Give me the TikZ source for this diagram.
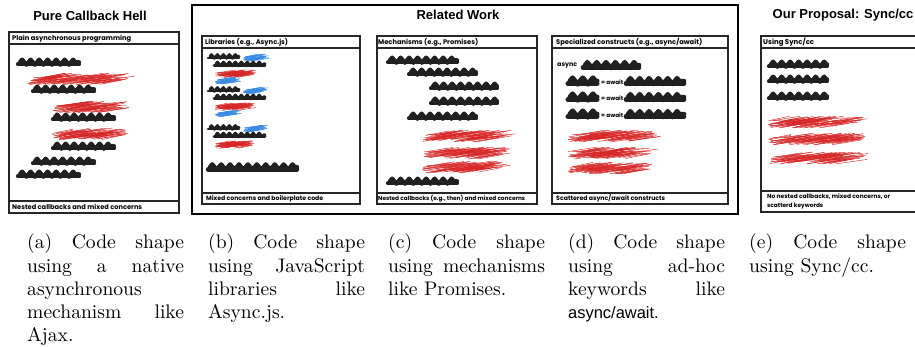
\documentclass[tikz,border=0pt]{standalone}
\usepackage{fontspec}
\usepackage{graphicx}
\usetikzlibrary{decorations.pathmorphing}
\newfontfamily\titlefont{Liberation Sans}
\newfontfamily\helv{Liberation Sans}
\newfontfamily\sketchfont{Poppins}
\definecolor{scribred}{RGB}{214,38,38}
\definecolor{scribblue}{RGB}{58,138,228}
\definecolor{scribblack}{RGB}{32,32,32}

\tikzset{
  panel/.style={draw=black!85, line width=1.2pt},
  frame/.style={draw=black, line width=2pt},
  title/.style={font=\titlefont\bfseries\fontsize{13}{15}\selectfont, inner sep=0},
  label/.style={font=\sketchfont\bfseries\fontsize{7}{8}\selectfont, anchor=west, inner sep=0},
  capt/.style={anchor=base west, inner sep=0},
  redline/.style={scribred, line width=0.45pt},
  blueline/.style={scribblue, line width=0.45pt},
}

% thick black scribble: flat lower stroke plus a zigzag upper stroke
\newcommand{\blk}[4]{%
  \pgfmathsetmacro\bw{4.2*#4}%
  \pgfmathsetmacro\zw{4.2*#4}%
  \pgfmathsetmacro\zs{8.5*#4}%
  \pgfmathsetmacro\za{2.6*#4}%
  \draw[scribblack, line width=\bw pt, line cap=round] (#1+1, #3+1.4*#4) -- (#2-1, #3+1.4*#4);
  \draw[scribblack, line width=\zw pt, line cap=round, line join=round, decorate,
        decoration={zigzag, segment length=\zs pt, amplitude=\za pt}]
        (#1+3, #3-0.8*#4) -- (#2-1, #3-0.8*#4);
}

% hatched band of long, shallow strokes: style, x1, x2, y, half height
\newcommand{\hatch}[5]{%
  \pgfmathsetmacro\hl{5*#5}%
  \pgfmathsetmacro\hw{#3-#2-\hl}%
  \pgfmathtruncatemacro\hn{(#3-#2)/(0.24*#5)}%
  \foreach \k in {0,...,\hn}{%
    \pgfmathsetmacro\xa{#2+rnd*\hw}%
    \pgfmathsetmacro\ya{#4+#5*(0.95-1.5*rnd)}%
    \pgfmathsetmacro\lx{\hl*(0.8+0.5*rnd)}%
    \draw[#1] (\xa, \ya+0.45*#5) -- (\xa+\lx, \ya-0.45*#5);
  }
  \draw[#1] (#2+0.5*#5, #4+0.5*#5) -- (#3-1, #4-0.2*#5);
  \draw[#1] (#2+#5, #4-0.1*#5) -- (#3-0.5*#5, #4-0.7*#5);
  \draw[#1] (#2+0.2*#5, #4+0.9*#5) -- (#3-#5, #4+0.3*#5);
}

% label of fixed printed width
\newcommand{\lab}[2]{\resizebox{#1pt}{!}{#2}}

\newcommand{\capbox}[1]{\scalebox{1.96}{\parbox[t]{80pt}{\fontsize{10}{11.85}\selectfont #1}}}

\begin{document}
\begin{tikzpicture}[x=1pt, y=-1pt]
\pgfmathsetseed{7}
\useasboundingbox (0,0) rectangle (915,347);
\begin{scope}
\clip (0,0) rectangle (915,347);

% titles
\node[title] (ta) at (90,16) {Pure Callback Hell};
\node[title] (tb) at (458,15) {Related Work};
\node[title] (te) at (843,15) {Our Proposal: Sync/cc};

% related work frame
\draw[frame] (192,5) rectangle (738,214);

% panel (a)
\draw[panel] (9,32) rectangle (179,213);
\draw[panel] (9,44) -- (179,44) (9,201) -- (179,201);
\node[label] (ha) at (12,38.5) {\lab{119}{Plain asynchronous programming}};
\node[label] (fa) at (12,207) {\lab{130}{Nested callbacks and mixed concerns}};
\blk{17}{80}{63}{1}
\hatch{redline}{28}{128}{78}{5}
\blk{32}{95}{90}{1}
\hatch{redline}{52}{128}{106}{5}
\blk{52}{115}{118}{1}
\hatch{redline}{52}{127}{133}{5}
\blk{52}{115}{147}{1}
\blk{32}{95}{162}{1}
\blk{17}{80}{175}{1}

% panel (b)
\draw[panel] (202,36) rectangle (360,204);
\draw[panel] (202,48) -- (360,48) (202,193) -- (360,193);
\node[label] (hb) at (205,42) {\lab{83}{Libraries (e.g., Async.js)}};
\node[label] (fb) at (206,198.5) {\lab{117}{Mixed concerns and boilerplate code}};
\foreach \dy in {0,33,71}{
  \blk{207}{240}{57+\dy}{0.7}
  \hatch{blueline}{243}{266}{57+\dy}{3}
  \blk{213}{266}{64.5+\dy}{0.7}
  \hatch{redline}{215}{255}{73+\dy}{3.2}
}
\hatch{blueline}{215}{238}{80}{3}
\hatch{blueline}{215}{238}{113}{3}
\blk{207}{298}{168}{1.05}

% panel (c)
\draw[panel] (377,36) rectangle (537,204);
\draw[panel] (377,48) -- (537,48) (377,193) -- (537,193);
\node[label] (hc) at (378,42) {\lab{100}{Mechanisms (e.g., Promises)}};
\node[label] (fc) at (378,198.5) {\lab{147}{Nested callbacks (e.g., then) and mixed concerns}};
\blk{387}{458}{61}{1}
\blk{408}{477}{73}{1}
\blk{430}{498}{87}{1}
\blk{430}{498}{102}{1}
\blk{408}{477}{117}{1}
\hatch{redline}{422}{510}{135}{5}
\hatch{redline}{423}{508}{152}{5}
\hatch{redline}{422}{505}{166}{5}
\blk{387}{458}{182}{1}

% panel (d)
\draw[panel] (552,36) rectangle (728,204);
\draw[panel] (552,48) -- (728,48) (552,193) -- (728,193);
\node[label] (hd) at (556,42) {\lab{146}{Specialized constructs (e.g., async/await)}};
\node[label] (fd) at (556,198.5) {\lab{109}{Scattered async/await constructs}};
\node[label] (kasync) at (557,66) {\lab{20}{async}};
\blk{582}{640}{66}{1.1}
\foreach \yy [count=\i] in {82,98,115}{
  \blk{567}{598}{\yy}{1.2}
  \node[label] (kaw\i) at (601,\yy) {\lab{22}{= await}};
  \blk{625}{685}{\yy}{1.1}
}
\hatch{redline}{567}{655}{135}{5}
\hatch{redline}{567}{652}{152}{5}
\hatch{redline}{567}{650}{167}{5}

% panel (e)
\draw[panel] (761,36) rectangle (930,212);
\draw[panel] (761,48) -- (930,48) (761,191) -- (930,191);
\node[label] (he) at (763,42) {\lab{51}{Using Sync/cc}};
\node[label] (fe1) at (767,197) {\lab{123}{No nested callbacks, mixed concerns, or}};
\node[label] (fe2) at (767,206) {\lab{56}{scatterd keywords}};
\blk{768}{828}{65}{1}
\blk{768}{828}{80}{1}
\blk{768}{828}{97}{1}
\hatch{redline}{768}{863}{121}{5}
\hatch{redline}{768}{863}{138}{5}
\hatch{redline}{770}{865}{157}{5}

% sub-figure captions
\node[capt] (ca) at (27,249) {\capbox{(a) Code shape\linebreak using a native\linebreak asynchronous\linebreak mechanism like\linebreak Ajax.}};
\node[capt] (cb) at (208,249) {\capbox{(b) Code shape\linebreak using JavaScript\linebreak libraries like\linebreak Async.js.}};
\node[capt] (cc) at (388,249) {\capbox{(c) Code shape\linebreak using mechanisms\linebreak like Promises.}};
\node[capt] (cd) at (568,249) {\capbox{(d) Code shape\linebreak using ad-hoc\linebreak keywords like\linebreak {\helv\fontsize{8.4}{11.85}\selectfont async/await.}}};
\node[capt] (ce) at (749,249) {\capbox{(e) Code shape\linebreak using Sync/cc.}};
\end{scope}
\end{tikzpicture}
\end{document}
